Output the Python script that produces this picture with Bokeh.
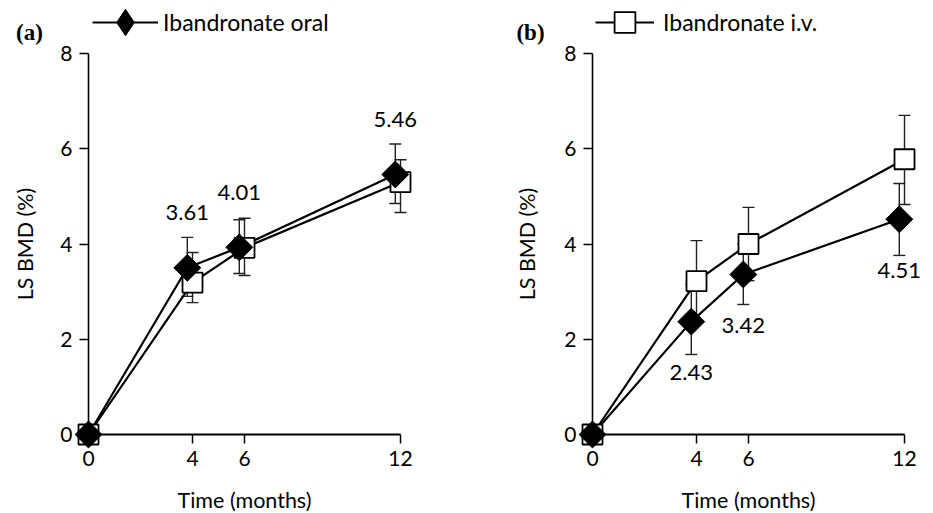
import numpy as np
from bokeh.plotting import figure
from bokeh.models import (ColumnDataSource, Range1d, LinearAxis, FixedTicker, Whisker,
                          TeeHead, Label, Legend, LegendItem)
from bokeh.layouts import row
from bokeh.core.properties import value
from bokeh.embed import file_html
from bokeh.resources import INLINE

# ---------------- data ----------------
MONTHS = [0, 4, 6, 12]
X_TICKS = [0, 4, 6, 12]
Y_TICKS = [0, 2, 4, 6, 8]

# panel (a)
ORAL_A = [0.0, 3.50, 3.93, 5.46]
ORAL_A_LO = [0.0, 2.90, 3.38, 4.85]
ORAL_A_HI = [0.0, 4.14, 4.51, 6.10]
IV_A = [0.0, 3.19, 3.92, 5.30]
IV_A_LO = [0.0, 2.77, 3.34, 4.66]
IV_A_HI = [0.0, 3.82, 4.54, 5.77]
LABELS_A = ["3.61", "4.01", "5.46"]

# panel (b)
ORAL_B = [0.0, 2.37, 3.36, 4.52]
ORAL_B_LO = [0.0, 1.68, 2.73, 3.76]
ORAL_B_HI = [0.0, 3.15, 4.00, 5.27]
IV_B = [0.0, 3.22, 4.00, 5.78]
IV_B_LO = [0.0, 2.40, 3.23, 4.83]
IV_B_HI = [0.0, 4.07, 4.77, 6.70]
LABELS_B = ["2.43", "3.42", "4.51"]

FONT = "Lato"
ORAL_SHIFT = -0.2   # horizontal offset of the oral markers (months)

PX_X = 26.0          # pixels per month
PX_Y = 47.625        # pixels per % unit
FIG_H = 512
ZERO_Y = 434         # canvas row of y = 0


def make_panel(tag, oral, oral_lo, oral_hi, iv, iv_lo, iv_hi, labels, label_dy,
               legend_which, fig_w, zero_x, ylab_x, tag_x, legend_x):
    x0 = -zero_x / PX_X
    y0 = -(FIG_H - ZERO_Y) / PX_Y
    p = figure(frame_width=fig_w, frame_height=FIG_H,
               x_range=Range1d(x0, x0 + fig_w / PX_X),
               y_range=Range1d(y0, y0 + FIG_H / PX_Y),
               min_border_left=0, min_border_right=0,
               min_border_top=0, min_border_bottom=0,
               x_axis_location=None, y_axis_location=None,
               output_backend="svg", toolbar_location=None)
    p.grid.grid_line_color = None
    p.outline_line_color = None
    p.background_fill_color = "white"
    p.border_fill_color = "white"

    xaxis = LinearAxis(fixed_location=0, bounds=(X_TICKS[0], X_TICKS[-1]),
                       ticker=FixedTicker(ticks=X_TICKS),
                       major_tick_out=9, major_tick_in=0,
                       minor_tick_out=0, minor_tick_in=0,
                       axis_line_width=2.2, major_tick_line_width=1.5,
                       axis_line_color="black", major_tick_line_color="black",
                       major_label_text_font=FONT, major_label_text_font_size="21px",
                       major_label_text_color="black",
                       major_label_standoff=7, level="underlay")
    p.add_layout(xaxis, "below")
    yaxis = LinearAxis(fixed_location=0, bounds=(Y_TICKS[0], Y_TICKS[-1]),
                       ticker=FixedTicker(ticks=Y_TICKS),
                       major_tick_out=9, major_tick_in=0,
                       minor_tick_out=0, minor_tick_in=0,
                       axis_line_width=1.6, major_tick_line_width=1.5,
                       axis_line_color="black", major_tick_line_color="black",
                       major_label_text_font=FONT, major_label_text_font_size="21px",
                       major_label_text_color="black",
                       major_label_standoff=7, level="underlay")
    p.add_layout(yaxis, "left")

    x_oral = [t + ORAL_SHIFT if t > 0 else t for t in MONTHS]
    x_iv = list(MONTHS)

    # error bars (months > 0)
    for xs, lo, hi in ((x_iv, iv_lo, iv_hi), (x_oral, oral_lo, oral_hi)):
        src = ColumnDataSource(dict(x=xs[1:], lo=lo[1:], hi=hi[1:]))
        w = Whisker(source=src, base="x", lower="lo", upper="hi", dimension="height",
                    line_color="#222222", line_width=1.4, level="underlay",
                    upper_head=TeeHead(size=12, line_width=1.4, line_color="#222222"),
                    lower_head=TeeHead(size=12, line_width=1.4, line_color="#222222"))
        p.add_layout(w)

    line_iv = p.line(x_iv, iv, line_color="black", line_width=2.2)
    line_oral = p.line(x_oral, oral, line_color="black", line_width=2.2)
    sq_iv = p.scatter(x_iv, iv, marker="square", size=20, fill_color="white",
                      line_color="black", line_width=1.8)
    dia_leg = p.scatter(x_oral, oral, marker="diamond", size=18, fill_color="black",
                        line_color="black", line_width=1)
    p.scatter(x_oral, oral, marker="square", angle=np.pi / 4, size=19,
              fill_color="black", line_color="black", line_width=1)

    p.text(x=x_oral[1:], y=oral[1:], text=labels, text_font=value(FONT),
           text_font_size="22px", text_align="center", text_baseline="middle",
           text_color="black", y_offset=label_dy)

    # axis titles and panel tag
    p.add_layout(Label(x=ylab_x, x_units="screen",
                       y=(Y_TICKS[0] + Y_TICKS[-1]) / 2, y_units="data",
                       text="LS BMD (%)", angle=np.pi / 2, text_align="center",
                       text_baseline="middle", text_font=FONT, text_font_size="21.5px",
                       text_color="black"))
    p.add_layout(Label(x=(X_TICKS[0] + X_TICKS[-1]) / 2, x_units="data",
                       y=FIG_H - 499, y_units="screen", text="Time (months)",
                       text_align="center", text_baseline="middle",
                       text_font=FONT, text_font_size="21.5px", text_color="black"))
    p.add_layout(Label(x=tag_x, x_units="screen", y=FIG_H - 32, y_units="screen",
                       text=tag, text_align="center", text_baseline="middle",
                       text_font="Liberation Serif", text_font_style="bold",
                       text_font_size="23px", text_color="black"))

    if legend_which == "oral":
        item = LegendItem(label="Ibandronate oral", renderers=[line_oral, dia_leg])
        gw, gh, stand = 66, 66, 5
    else:
        item = LegendItem(label="Ibandronate i.v.", renderers=[line_iv, sq_iv])
        gw, gh, stand = 59, 52, 9
    legend = Legend(items=[item], location=(legend_x, FIG_H - (22 + gh / 2)),
                    glyph_width=gw, glyph_height=gh, label_standoff=stand,
                    padding=0, margin=0, spacing=0, border_line_color=None,
                    background_fill_alpha=0, label_text_font=FONT,
                    label_text_font_size="23px", label_text_color="black")
    p.add_layout(legend)
    return p


pa = make_panel("(a)", ORAL_A, ORAL_A_LO, ORAL_A_HI, IV_A, IV_A_LO, IV_A_HI,
                LABELS_A, -55, "oral", 466, 88, 24, 29, 92)
pb = make_panel("(b)", ORAL_B, ORAL_B_LO, ORAL_B_HI, IV_B, IV_B_LO, IV_B_HI,
                LABELS_B, 51, "iv", 464, 126, 60, 64, 129)

layout = row(pa, pb)
open("out.html", "w").write(file_html(layout, INLINE))
